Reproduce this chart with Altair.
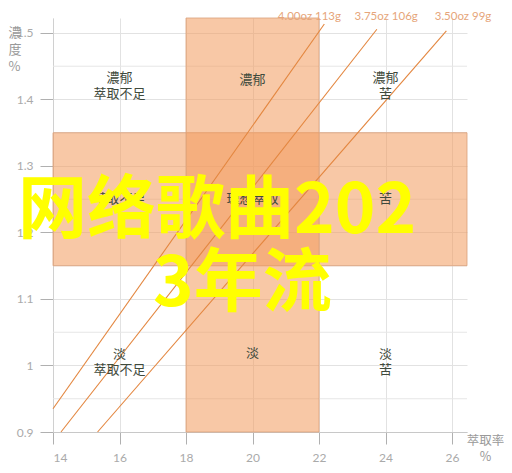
import altair as alt
import pandas as pd

# ---- data ----
band_x = [14, 18]
band_x2 = [26.45, 22]
band_y = [1.15, 0.9]
band_y2 = [1.35, 1.5225]

minor_grid_y = [0.95, 1.05, 1.15, 1.25, 1.35, 1.45]

series_names = ["4.00oz 113g", "4.00oz 113g", "3.75oz 106g", "3.75oz 106g", "3.50oz 99g", "3.50oz 99g"]
series_x = [14.0, 22.16, 14.24, 23.74, 15.34, 25.83]
series_y = [0.935, 1.5135, 0.9, 1.5056, 0.9, 1.503]

label_names = ["4.00oz 113g", "3.75oz 106g", "3.50oz 99g"]
label_x = [21.71, 24.02, 26.33]

region_x = [16, 20, 24, 16, 20, 24, 16, 20, 24]
region_y = [1.432, 1.429, 1.432, 1.25, 1.25, 1.25, 1.018, 1.019, 1.018]
region_text = ["濃郁\n萃取不足", "濃郁", "濃郁\n苦",
               "萃取不足", "理想萃取", "苦",
               "淡\n萃取不足", "淡", "淡\n苦"]

overlay_line1 = "网络歌曲202"
overlay_line2 = "3年流"

x_ticks = [14, 16, 18, 20, 22, 24, 26]
y_ticks = [0.9, 1.0, 1.1, 1.2, 1.3, 1.4, 1.5]

# ---- scales ----
xs = alt.Scale(domain=[14, 26.45], nice=False, zero=False)
ys = alt.Scale(domain=[0.9, 1.5225], nice=False, zero=False)

x_axis = alt.Axis(values=x_ticks, format="~g", grid=True, gridColor="#e2e2e2",
                  domainColor="#c8c8c8", tickColor="#b0b0b0", tickSize=12,
                  labelColor="#aaaaaa", labelFontSize=12, labelFont="Lato",
                  labelPadding=8,
                  title=["萃取率", "%"], titleFont="Noto Sans CJK TC", titleFontSize=12.5,
                  titleFontWeight="normal", titleColor="#999999",
                  titleX=432, titleY=2, titleAlign="center", titleBaseline="top",
                  titleAngle=0, titleLineHeight=16)
y_axis = alt.Axis(values=y_ticks, format="~g", grid=True, gridColor="#e2e2e2",
                  domainColor="#d0d0d0", tickColor="#b0b0b0", tickSize=13,
                  labelColor="#aaaaaa", labelFontSize=12, labelFont="Lato",
                  labelPadding=7,
                  title=["濃", "度", "%"], titleFont="Noto Sans CJK TC", titleFontSize=13,
                  titleFontWeight="normal", titleColor="#999999",
                  titleX=-45, titleY=8, titleAlign="left", titleBaseline="top",
                  titleAngle=0, titleLineHeight=17)

bands_df = pd.DataFrame({"x": band_x, "x2": band_x2, "y": band_y, "y2": band_y2})
grid_df = pd.DataFrame({"y": minor_grid_y, "x": [14] * len(minor_grid_y),
                        "x2": [26.45] * len(minor_grid_y)})
lines_df = pd.DataFrame({"s": series_names, "x": series_x, "y": series_y})
labels_df = pd.DataFrame({"s": label_names, "x": label_x})
regions_df = pd.DataFrame({"x": region_x, "y": region_y, "t": region_text})

minor = alt.Chart(grid_df).mark_rule(color="#e6e6e6", strokeWidth=1).encode(
    x=alt.X("x:Q", scale=xs, axis=x_axis), x2="x2:Q",
    y=alt.Y("y:Q", scale=ys, axis=y_axis))

bands = alt.Chart(bands_df).mark_rect(fill="#f39a5c", fillOpacity=0.55,
                                      stroke="#d9a07c", strokeWidth=1, strokeOpacity=0.8).encode(
    x=alt.X("x:Q", scale=xs), x2="x2:Q",
    y=alt.Y("y:Q", scale=ys), y2="y2:Q")

lines = alt.Chart(lines_df).mark_line(color="#e3863f", strokeWidth=1.1).encode(
    x=alt.X("x:Q", scale=xs), y=alt.Y("y:Q", scale=ys), detail="s:N")

top_labels = alt.Chart(labels_df).mark_text(color="#e6a57a", fontSize=11.5, font="Lato",
                                            align="center", baseline="top").encode(
    x=alt.X("x:Q", scale=xs), y=alt.value(-7), text="s:N")

regions = alt.Chart(regions_df).mark_text(color="#3f4a3c", fontSize=13,
                                          font="Noto Sans CJK TC", lineBreak="\n",
                                          lineHeight=16, align="center",
                                          baseline="middle").encode(
    x=alt.X("x:Q", scale=xs), y=alt.Y("y:Q", scale=ys), text="t:N")

ov1 = alt.Chart(pd.DataFrame({"t": [overlay_line1]})).mark_text(
    color="#ffff00", fontSize=69, fontWeight="bold", font="Noto Sans CJK SC",
    align="left", baseline="middle").encode(
    x=alt.value(-35), y=alt.value(194), text="t:N")
ov2 = alt.Chart(pd.DataFrame({"t": [overlay_line2]})).mark_text(
    color="#ffff00", fontSize=69, fontWeight="bold", font="Noto Sans CJK SC",
    align="left", baseline="middle").encode(
    x=alt.value(100), y=alt.value(267), text="t:N")

chart = alt.layer(minor, bands, lines, regions, top_labels, ov1, ov2).properties(
    width=414, height=414,
    autosize=alt.AutoSizeParams(type="none"),
    padding={"left": 45, "top": 10, "right": 37, "bottom": 33},
).configure_view(stroke=None)

chart.save("out.html", embed_options={"renderer": "svg", "actions": False})
